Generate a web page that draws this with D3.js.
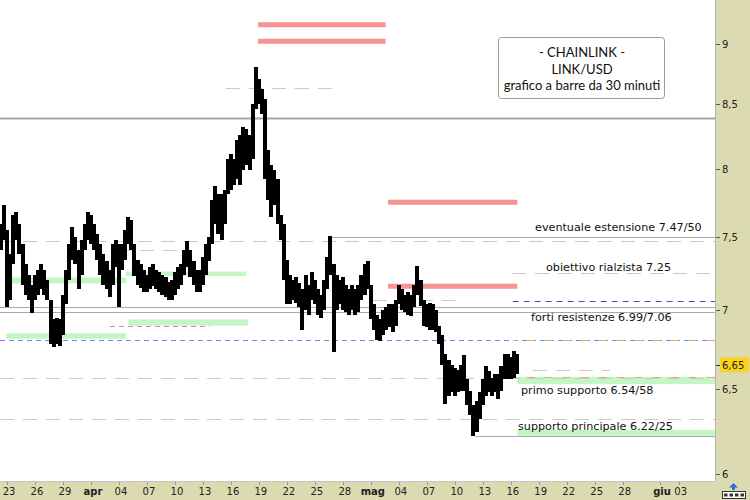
<!DOCTYPE html>
<html>
<head>
<meta charset="utf-8">
<script src="https://cdn.jsdelivr.net/npm/d3@7"></script>
<style>
  body { margin: 0; background: #fff; }
  svg { display: block; }
</style>
</head>
<body>
<div id="chart"></div>
<script>
// LINK/USD, barre da 30 minuti (raggruppate a 8 ore per la lettura del grafico)
const barStart = "2023-03-22 08"
const barHours = 8
const barHigh = [
  7.59, 7.73, 7.55, 7.38, 7.66, 7.68, 7.59, 7.45, 7.31, 7.24,
  7.17, 7.24, 7.27, 7.31, 7.27, 7.20, 7.07, 6.94, 6.95, 6.94,
  7.10, 7.27, 7.45, 7.57, 7.50, 7.41, 7.48, 7.59, 7.68, 7.66,
  7.59, 7.52, 7.45, 7.38, 7.33, 7.27, 7.45, 7.48, 7.45, 7.45,
  7.55, 7.64, 7.62, 7.45, 7.34, 7.31, 7.27, 7.24, 7.29, 7.31,
  7.27, 7.26, 7.24, 7.22, 7.19, 7.20, 7.26, 7.29, 7.31, 7.41,
  7.47, 7.41, 7.33, 7.27, 7.27, 7.36, 7.45, 7.50, 7.77, 7.87,
  7.81, 7.81, 7.84, 8.07, 8.11, 8.07, 8.22, 8.26, 8.32, 8.30,
  8.26, 8.50, 8.80, 8.70, 8.62, 8.54, 8.14, 8.03, 7.99, 7.92,
  7.66, 7.59, 7.34, 7.24, 7.20, 7.22, 7.18, 7.14, 7.24, 7.17,
  7.26, 7.20, 7.14, 7.10, 7.20, 7.36, 7.51, 7.31, 7.24, 7.20,
  7.22, 7.17, 7.14, 7.17, 7.14, 7.17, 7.24, 7.31, 7.33, 7.17,
  7.04, 6.97, 6.94, 7.00, 7.02, 7.04, 7.04, 7.07, 7.17, 7.14,
  7.10, 7.12, 7.10, 7.17, 7.30, 7.20, 7.07, 7.04, 7.05, 7.04,
  7.00, 6.90, 6.84, 6.72, 6.68, 6.65, 6.63, 6.62, 6.65, 6.71,
  6.56, 6.49, 6.40, 6.43, 6.48, 6.56, 6.64, 6.61, 6.57, 6.59,
  6.59, 6.64, 6.72, 6.72, 6.70, 6.74, 6.72
]
const barLow = [
  7.41, 7.48, 7.02, 7.07, 7.31, 7.48, 7.38, 7.17, 7.10, 7.07,
  6.98, 7.07, 7.10, 7.14, 7.10, 7.07, 6.78, 6.76, 6.78, 6.77,
  6.84, 7.04, 7.20, 7.34, 7.31, 7.14, 7.24, 7.41, 7.48, 7.45,
  7.41, 7.34, 7.24, 7.17, 7.14, 7.09, 7.17, 7.29, 7.02, 7.27,
  7.34, 7.45, 7.41, 7.23, 7.17, 7.15, 7.12, 7.12, 7.14, 7.16,
  7.14, 7.12, 7.10, 7.09, 7.07, 7.07, 7.10, 7.14, 7.17, 7.24,
  7.29, 7.22, 7.17, 7.12, 7.12, 7.17, 7.24, 7.33, 7.45, 7.59,
  7.52, 7.48, 7.59, 7.81, 7.84, 7.88, 7.92, 7.88, 7.99, 8.03,
  7.99, 8.07, 8.46, 8.50, 8.42, 7.92, 7.77, 7.64, 7.73, 7.59,
  7.48, 7.20, 7.04, 7.04, 7.07, 7.05, 7.02, 6.87, 7.00, 6.97,
  7.07, 7.04, 6.97, 6.95, 7.00, 7.14, 7.24, 6.73, 7.00, 7.04,
  7.00, 6.99, 6.97, 7.00, 6.97, 6.99, 7.07, 7.10, 7.14, 6.94,
  6.87, 6.81, 6.80, 6.84, 6.87, 6.89, 6.86, 6.90, 7.04, 7.00,
  6.99, 6.97, 6.96, 7.02, 7.10, 7.03, 6.90, 6.89, 6.87, 6.87,
  6.86, 6.78, 6.65, 6.41, 6.46, 6.48, 6.46, 6.48, 6.49, 6.49,
  6.40, 6.34, 6.22, 6.24, 6.32, 6.40, 6.46, 6.48, 6.46, 6.48,
  6.44, 6.49, 6.56, 6.56, 6.56, 6.57, 6.59
]
const lastPrice = 6.65

const tickDates = [
  "2023-03-23", "2023-03-26", "2023-03-29", "2023-04-01", "2023-04-04", "2023-04-07",
  "2023-04-10", "2023-04-13", "2023-04-16", "2023-04-19", "2023-04-22", "2023-04-25",
  "2023-04-28", "2023-05-01", "2023-05-04", "2023-05-07", "2023-05-10", "2023-05-13",
  "2023-05-16", "2023-05-19", "2023-05-22", "2023-05-25", "2023-05-28", "2023-06-01",
  "2023-06-03"
]
const tickLabels = [
  "23", "26", "29", "apr", "04", "07", "10", "13", "16", "19", "22", "25",
  "28", "mag", "04", "07", "10", "13", "16", "19", "22", "25", "28", "giu", "03"
]
const monthLabels = ["apr", "mag", "giu"]
const priceTicks = [6, 6.5, 7, 7.5, 8, 8.5, 9]

// livelli (prezzo, da, a) - null = bordo del grafico
const mainResistance = [{ p: 8.39, from: null, to: null }]
const salmonZones = [
  { p: 9.16, from: "2023-04-18 22", to: "2023-05-02 14" },
  { p: 9.02, from: "2023-04-18 22", to: "2023-05-02 14" },
  { p: 7.75, from: "2023-05-02 20", to: "2023-05-16 17" },
  { p: 7.16, from: "2023-05-02 20", to: "2023-05-16 17" }
]
const greenZones = [
  { hi: 7.22, lo: 7.18, from: "2023-03-23 10", to: "2023-04-04 18" },
  { hi: 7.26, lo: 7.23, from: "2023-04-04 18", to: "2023-04-17 15" },
  { hi: 6.94, lo: 6.90, from: "2023-04-05 00", to: "2023-04-17 20" },
  { hi: 6.85, lo: 6.815, from: "2023-03-22 22", to: "2023-04-04 18" },
  { hi: 6.575, lo: 6.53, from: "2023-05-16 17", to: null },
  { hi: 6.255, lo: 6.22, from: "2023-05-16 17", to: null }
]
const grayDashed = [
  { p: 8.63, from: "2023-04-15 11", to: "2023-04-27 17" },
  { p: 7.47, from: null, to: null },
  { p: 7.41, from: "2023-04-03 19", to: "2023-04-11 07" },
  { p: 7.25, from: "2023-05-16 03", to: null },
  { p: 7.07, from: "2023-05-01 05", to: "2023-05-11 02" },
  { p: 6.57, from: null, to: null },
  { p: 6.62, from: "2023-05-18 09", to: "2023-05-26 15" },
  { p: 6.32, from: null, to: null }
]
const graySolid = [
  { p: 7.50, from: "2023-04-26 15", to: null },
  { p: 7.02, from: null, to: null },
  { p: 6.99, from: null, to: null },
  { p: 6.22, from: "2023-05-12 04", to: null }
]
const blueDashed = [{ p: 6.81, from: null, to: null }]
const purpleDashed = [{ p: 7.06, from: "2023-05-16 05", to: null }]
const pinkDashed = [{ p: 6.90, from: "2023-04-03 01", to: "2023-04-13 18" }]
const orangeDashed = [
  { p: 6.81, from: "2023-05-16 05", to: null },
  { p: 6.575, from: "2023-05-16 05", to: null }
]

const notes = [
  "eventuale estensione 7.47/50",
  "obiettivo rialzista 7.25",
  "forti resistenze 6.99/7.06",
  "primo supporto 6.54/58",
  "supporto principale 6.22/25"
]
const titleLines = ["- CHAINLINK -", "LINK/USD", "grafico a barre da 30 minuti"]

const width = 750, height = 500
const plotRight = 715, plotBottom = 481
const panelColor = "#dcdab1"

const parseDay = d3.timeParse("%Y-%m-%d")
const parseHour = d3.timeParse("%Y-%m-%d %H")

const xScale = d3.scaleTime()
    .domain([parseDay("2023-03-23"), parseDay("2023-06-01")])
    .range([7, 660])
const yScale = d3.scaleLog()
    .domain([6, 9])
    .range([474, 43.5])

const xFrom = d => d.from ? xScale(parseHour(d.from)) : 0
const xTo = d => d.to ? xScale(parseHour(d.to)) : plotRight

const svg = d3.select("#chart")
    .append("svg")
    .attr("width", width)
    .attr("height", height)

svg.append("defs").append("clipPath")
    .attr("id", "plot-clip")
    .append("rect")
    .attr("width", plotRight)
    .attr("height", plotBottom)

// panels
svg.append("rect")
    .attr("x", plotRight).attr("y", 0)
    .attr("width", width - plotRight).attr("height", height)
    .attr("fill", panelColor)
svg.append("rect")
    .attr("x", 0).attr("y", plotBottom)
    .attr("width", width).attr("height", height - plotBottom)
    .attr("fill", panelColor)
svg.append("line")
    .attr("x1", plotRight + 0.5).attr("x2", plotRight + 0.5)
    .attr("y1", 0).attr("y2", plotBottom)
    .attr("stroke", "#b4b4b4")
svg.append("line")
    .attr("x1", 0).attr("x2", plotRight)
    .attr("y1", plotBottom + 0.5).attr("y2", plotBottom + 0.5)
    .attr("stroke", "#c4c4c4")

const plot = svg.append("g").attr("clip-path", "url(#plot-clip)")

// green support bands
plot.selectAll(".green")
    .data(greenZones)
    .enter().append("rect")
    .attr("class", "green")
    .attr("x", xFrom)
    .attr("width", d => xTo(d) - xFrom(d))
    .attr("y", d => yScale(d.hi))
    .attr("height", d => yScale(d.lo) - yScale(d.hi))
    .attr("fill", "#c4f5c4")

function addLevels(data, color, strokeWidth, dash, offset) {
    plot.selectAll(null)
        .data(data)
        .enter().append("line")
        .attr("x1", xFrom)
        .attr("x2", xTo)
        .attr("y1", d => Math.round(yScale(d.p)) + 0.5)
        .attr("y2", d => Math.round(yScale(d.p)) + 0.5)
        .attr("stroke", color)
        .attr("stroke-width", strokeWidth)
        .attr("stroke-dasharray", dash)
        .attr("stroke-dashoffset", offset || 0)
}

addLevels(grayDashed, "#c9c9c9", 1, "14,9")
addLevels(graySolid, "#a9a9a9", 1, null)
addLevels(blueDashed, "#6b8ae6", 1, "5,4")
addLevels(orangeDashed, "#eea860", 1, "8,10", 4)
addLevels(purpleDashed, "#6440b8", 1, "6,5")
addLevels(pinkDashed, "#e3809b", 1, "5,4")
addLevels(mainResistance, "#a6a6a6", 2, null)

// salmon resistance bars
plot.selectAll(".salmon")
    .data(salmonZones)
    .enter().append("line")
    .attr("class", "salmon")
    .attr("x1", xFrom)
    .attr("x2", xTo)
    .attr("y1", d => yScale(d.p))
    .attr("y2", d => yScale(d.p))
    .attr("stroke", "#f79393")
    .attr("stroke-width", 5)

// price bars
const barTime = i => d3.timeHour.offset(parseHour(barStart), i * barHours)
plot.selectAll(".bar")
    .data(barHigh)
    .enter().append("line")
    .attr("class", "bar")
    .attr("x1", (d, i) => xScale(barTime(i)))
    .attr("x2", (d, i) => xScale(barTime(i)))
    .attr("y1", d => yScale(d))
    .attr("y2", (d, i) => yScale(barLow[i]))
    .attr("stroke", "#000")
    .attr("stroke-width", 4)
    .attr("shape-rendering", "crispEdges")

// annotations
const noteX = [535, 546, 531, 521, 518]
const noteY = [231, 271, 321, 394, 430]
plot.selectAll(".note")
    .data(notes)
    .enter().append("text")
    .attr("class", "note")
    .attr("x", (d, i) => noteX[i])
    .attr("y", (d, i) => noteY[i])
    .attr("font-family", "DejaVu Sans")
    .attr("font-size", 11.2)
    .attr("fill", "#111")
    .text(d => d)

// title box
const titleBox = svg.append("g")
titleBox.append("rect")
    .attr("x", 498.5).attr("y", 37.5)
    .attr("width", 166).attr("height", 61)
    .attr("rx", 3)
    .attr("fill", "#fff")
    .attr("stroke", "#9a9a9a")
titleBox.selectAll("text")
    .data(titleLines)
    .enter().append("text")
    .attr("x", 582)
    .attr("y", (d, i) => 57 + i * 16.5)
    .attr("text-anchor", "middle")
    .attr("font-family", "Lato")
    .attr("font-size", 13)
    .attr("fill", "#111")
    .text(d => d)

// right price axis
const yaxis = svg.append("g")
yaxis.selectAll("line")
    .data(priceTicks)
    .enter().append("line")
    .attr("x1", plotRight + 1).attr("x2", plotRight + 5)
    .attr("y1", d => Math.round(yScale(d)) + 0.5)
    .attr("y2", d => Math.round(yScale(d)) + 0.5)
    .attr("stroke", "#555")
yaxis.selectAll("text")
    .data(priceTicks)
    .enter().append("text")
    .attr("x", plotRight + 7)
    .attr("y", d => yScale(d) + 4)
    .attr("font-family", "DejaVu Sans")
    .attr("font-size", 10)
    .attr("fill", "#222")
    .text(d => d3.format(".2~f")(d).replace(".", ","))

// last price label
const lastY = yScale(lastPrice)
svg.append("rect")
    .attr("x", plotRight + 5).attr("y", lastY - 7.5)
    .attr("width", 29).attr("height", 15)
    .attr("fill", "#fcd21c")
svg.append("line")
    .attr("x1", plotRight + 1).attr("x2", plotRight + 5)
    .attr("y1", Math.round(lastY) + 0.5).attr("y2", Math.round(lastY) + 0.5)
    .attr("stroke", "#333")
svg.append("text")
    .attr("x", plotRight + 7)
    .attr("y", lastY + 4)
    .attr("font-family", "DejaVu Sans")
    .attr("font-size", 10)
    .attr("fill", "#222")
    .text(d3.format(".2f")(lastPrice).replace(".", ","))

// bottom time axis
const xaxis = svg.append("g")
xaxis.selectAll("line")
    .data(tickDates)
    .enter().append("line")
    .attr("x1", d => Math.round(xScale(parseDay(d))) + 0.5)
    .attr("x2", d => Math.round(xScale(parseDay(d))) + 0.5)
    .attr("y1", plotBottom + 1).attr("y2", plotBottom + 4)
    .attr("stroke", "#9a9a86")
xaxis.selectAll("text")
    .data(tickDates)
    .enter().append("text")
    .attr("x", d => xScale(parseDay(d)) + 2)
    .attr("y", 495)
    .attr("text-anchor", "middle")
    .attr("font-family", "DejaVu Sans")
    .attr("font-size", 10)
    .attr("font-weight", (d, i) => monthLabels.includes(tickLabels[i]) ? "bold" : "normal")
    .attr("fill", "#222")
    .text((d, i) => tickLabels[i])

// small corner icon
const icon = svg.append("g")
icon.append("rect")
    .attr("x", 722.5).attr("y", 491.5)
    .attr("width", 23).attr("height", 7)
    .attr("fill", "#fff").attr("stroke", "#333")
icon.selectAll(".dot")
    .data([0, 1, 2, 3])
    .enter().append("rect")
    .attr("x", d => 724 + d * 5.5).attr("y", 493.5)
    .attr("width", 3.5).attr("height", 3)
    .attr("fill", "#333")
icon.append("path")
    .attr("d", "M733.5,483 L738,487.5 L735,487.5 L735,490 L732,490 L732,487.5 L729,487.5 Z")
    .attr("fill", "#2a6fd0")
</script>
</body>
</html>
